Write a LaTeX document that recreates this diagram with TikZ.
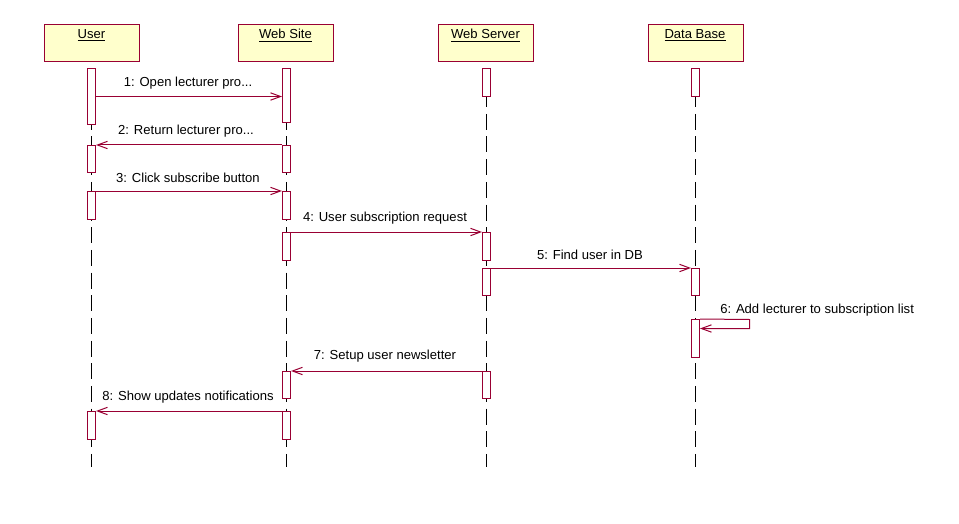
\documentclass[tikz,border=0pt]{standalone}
\usepackage{fontspec}
\setmainfont{Liberation Sans}
\usetikzlibrary{arrows.meta}
\definecolor{umlred}{RGB}{153,0,51}
\definecolor{umlyel}{RGB}{255,255,204}
\begin{document}
\begin{tikzpicture}[x=0.75pt,y=-0.75pt,
  every node/.style={font=\fontsize{9.8}{11.8}\selectfont, text=black},
  head/.style={draw=umlred,fill=umlyel,line width=0.75pt,minimum width=71.25pt,minimum height=27.75pt,inner sep=0pt},
  headtxt/.style={inner sep=0pt,anchor=center},
  bar/.style={draw=umlred,fill=white,line width=0.75pt,minimum width=6pt,inner sep=0pt},
  life/.style={draw=black,line width=0.75pt,dash pattern=on 12pt off 5pt},
  msg/.style={draw=umlred,line width=0.75pt,-{Straight Barb[length=7.5pt,width=5.5pt]}},
  lbl/.style={inner sep=0pt,anchor=center}]
\useasboundingbox (0,0) rectangle (959,524);
% headers
\node[head] (hu) at (92,43) {};
\node[head] (hw) at (286,43) {};
\node[head] (hs) at (486,43) {};
\node[head] (hd) at (695.5,43) {};
\node[headtxt] (tu) at (91.5,35.5) {\underline{User}};
\node[headtxt] (tw) at (285.5,35.5) {\underline{Web Site}};
\node[headtxt] (ts) at (485.5,35.5) {\underline{Web Server}};
\node[headtxt] (td) at (695,35.5) {\underline{Data Base}};
% lifeline ends
\coordinate (lu0) at (91.5,68.5);  \coordinate (lu1) at (91.5,467);
\coordinate (lw0) at (286.5,68.5); \coordinate (lw1) at (286.5,467);
\coordinate (ls0) at (486.5,68.5); \coordinate (ls1) at (486.5,467);
\coordinate (ld0) at (695.5,68.5); \coordinate (ld1) at (695.5,467);
\draw[life] (lu0) -- (lu1);
\draw[life] (lw0) -- (lw1);
\draw[life] (ls0) -- (ls1);
\draw[life] (ld0) -- (ld1);
% activation bars
\node[bar,minimum height=42pt]   (u1) at (91.5,96.5) {};
\node[bar,minimum height=20.25pt](u2) at (91.5,159) {};
\node[bar,minimum height=21pt]   (u3) at (91.5,205.5) {};
\node[bar,minimum height=21pt]   (u4) at (91.5,425.5) {};
\node[bar,minimum height=40.5pt] (w1) at (286.5,95.5) {};
\node[bar,minimum height=20.25pt](w2) at (286.5,159) {};
\node[bar,minimum height=21pt]   (w3) at (286.5,205.5) {};
\node[bar,minimum height=21pt]   (w4) at (286.5,246.5) {};
\node[bar,minimum height=20.25pt](w5) at (286.5,385) {};
\node[bar,minimum height=21pt]   (w6) at (286.5,425.5) {};
\node[bar,minimum height=21pt]   (s1) at (486.5,82.5) {};
\node[bar,minimum height=21pt]   (s2) at (486.5,246.5) {};
\node[bar,minimum height=20.25pt](s3) at (486.5,282) {};
\node[bar,minimum height=20.25pt](s4) at (486.5,385) {};
\node[bar,minimum height=21pt]   (d1) at (695.5,82.5) {};
\node[bar,minimum height=20.25pt](d2) at (695.5,282) {};
\node[bar,minimum height=28.5pt] (d3) at (695.5,338.5) {};
% messages
\coordinate (m1) at (0,96.5);
\draw[msg] (u1.east |- m1) -- (w1.west |- m1);
\node[lbl] (l1) at (188,83) {1: Open lecturer pro...};
\draw[msg] (w2.north west) -- (u2.north east);
\node[lbl] (l2) at (186,131) {2: Return lecturer pro...};
\draw[msg] (u3.north east) -- (w3.north west);
\node[lbl] (l3) at (188,177.5) {3: Click subscribe button};
\draw[msg] (w4.north east) -- (s2.north west);
\node[lbl] (l4) at (385,218.5) {4: User subscription request};
\draw[msg] (s3.north east) -- (d2.north west);
\node[lbl] (l5) at (590,254.5) {5: Find user in DB};
\coordinate (c6a) at (749.5,319.5);
\coordinate (c6b) at (749.5,328.5);
\coordinate (c6c) at (0,328.5);
\draw[msg] (d3.north east) -- (c6a) -- (c6b) -- (d3.east |- c6c);
\node[lbl,anchor=west] (l6) at (720,310.5) {6: Add lecturer to subscription list};
\draw[msg] (s4.north west) -- (w5.north east);
\node[lbl] (l7) at (385,356.5) {7: Setup user newsletter};
\draw[msg] (w6.north west) -- (u4.north east);
\node[lbl] (l8) at (188,397.5) {8: Show updates notifications};
\end{tikzpicture}
\end{document}
